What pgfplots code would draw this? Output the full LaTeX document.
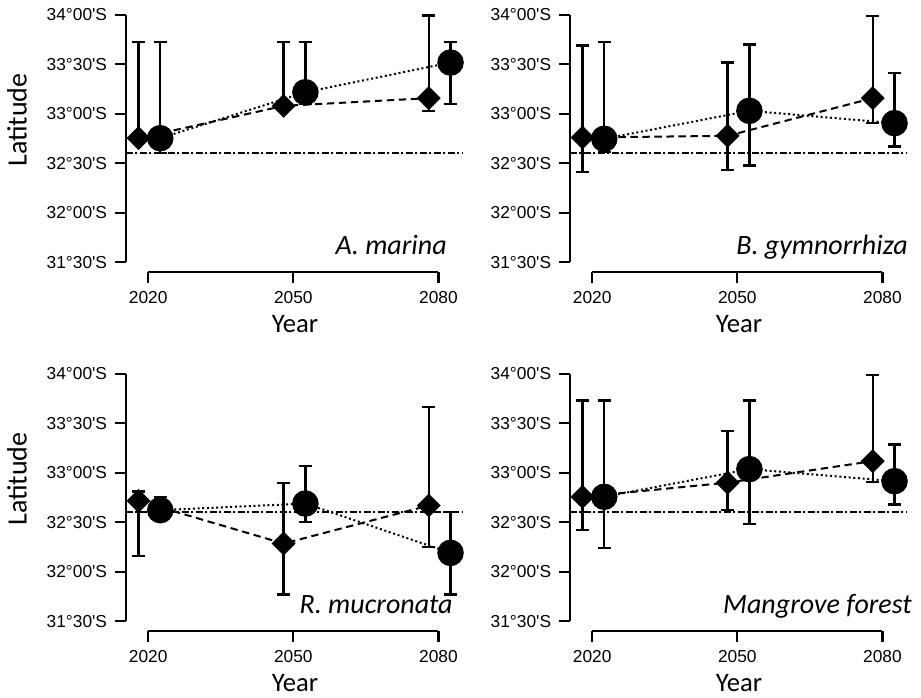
\documentclass[border=0pt]{standalone}
\usepackage{pgfplots}
\pgfplotsset{compat=1.18}
\usepackage{fontspec}
\setmainfont{Liberation Sans}
\newfontfamily\calibri{Carlito}
\newfontfamily\arialf{Liberation Sans}[Ligatures=TeXOff]
\newcommand{\tickf}{\arialf\fontsize{13}{15}\selectfont}
\newcommand{\labf}{\calibri\fontsize{20}{22}\selectfont}
\newcommand{\latf}{\calibri\fontsize{21}{23}\selectfont}
\newcommand{\spf}{\calibri\itshape\fontsize{21}{23}\selectfont}

\pgfplotsset{
  rstyle/.style={
    scale only axis, width=252.75pt, height=200.25pt,
    xmin=2015.42, xmax=2085.08, ymin=31.4, ymax=34.1,
    axis x line*=bottom, axis y line*=left, axis line style={draw=none},
    tick align=outside, major tick length=8pt,
    tick style={black, line width=1.7pt},
    xtick={2020,2050,2080}, xticklabels={2020,2050,2080},
    ytick={31.5,32,32.5,33,33.5,34},
    yticklabels={31°30'S,32°00'S,32°30'S,33°00'S,33°30'S,34°00'S},
    xticklabel style={font=\tickf, inner sep=0pt, anchor=north, yshift=-6pt},
    yticklabel style={font=\tickf, inner sep=0pt, anchor=east, xshift=-6pt},
    clip=false,
    xlabel={Year}, xlabel style={font=\labf, at={(axis description cs:0.5015,-0.228)}, anchor=base},
  },
  dia/.style={black, line width=1.5pt, dash pattern=on 5.5pt off 3.5pt,
    mark=square*, mark size=5.6pt, mark options={rotate=45, solid},
    error bars/.cd, y dir=both, y explicit,
    error bar style={solid, line width=1.7pt},
    error mark options={rotate=90, mark size=4.9pt, line width=1.7pt, solid, black}},
  cir/.style={black, line width=1.5pt, dash pattern=on 1.5pt off 2pt,
    mark=*, mark size=9.2pt, mark options={solid},
    error bars/.cd, y dir=both, y explicit,
    error bar style={solid, line width=1.7pt},
    error mark options={rotate=90, mark size=4.9pt, line width=1.7pt, solid, black}},
  refl/.style={black, line width=1.5pt, dash pattern=on 5pt off 2pt on 1.5pt off 2pt, no marks},
}
\newcommand{\raxes}{%
  \draw[line width=1.7pt] (axis cs:2015.42,31.5) -- (axis cs:2015.42,34);
  \draw[line width=1.7pt] (axis cs:2020,31.4) -- (axis cs:2080,31.4);
}

\begin{document}
\begin{tikzpicture}
\useasboundingbox (0,0) rectangle (690.75pt,522.75pt);

% Panel 1: A. marina
\begin{axis}[rstyle, at={(94.5pt,318.75pt)}, anchor=south west]
\raxes
\addplot[refl] coordinates {(2015.42,32.6) (2085.08,32.6)};
\addplot[dia] table[x=x, y=y, y error plus=ep, y error minus=em] {
x y ep em
2018 32.753 0.971 0
2048 33.080 0.644 0
2078 33.158 0.835 0.128
};
\addplot[cir] table[x=x, y=y, y error plus=ep, y error minus=em] {
x y ep em
2022.5 32.753 0.971 0.153
2052.5 33.218 0.506 0.120
2082.5 33.518 0.206 0.421
};
\node[font=\spf, anchor=base east, inner sep=0pt] at (rel axis cs:0.9525,0.0637) {A. marina};
\node[font=\latf, rotate=90, anchor=center, inner sep=0pt] at (rel axis cs:-0.3234,0.569) {Latitude};
\end{axis}

% Panel 2: B. gymnorrhiza
\begin{axis}[rstyle, at={(427.5pt,318.75pt)}, anchor=south west]
\raxes
\addplot[refl] coordinates {(2015.42,32.6) (2085.08,32.6)};
\addplot[dia] table[x=x, y=y, y error plus=ep, y error minus=em] {
x y ep em
2018 32.760 0.930 0.347
2048 32.777 0.741 0.347
2078 33.158 0.832 0.253
};
\addplot[cir] table[x=x, y=y, y error plus=ep, y error minus=em] {
x y ep em
2022.5 32.747 0.977 0.137
2052.5 33.030 0.670 0.553
2082.5 32.905 0.505 0.235
};
\node[font=\spf, anchor=base east, inner sep=0pt] at (rel axis cs:1.003,0.0637) {B. gymnorrhiza};
\end{axis}

% Panel 3: R. mucronata
\begin{axis}[rstyle, at={(94.5pt,49.5pt)}, anchor=south west]
\raxes
\addplot[refl] coordinates {(2015.42,32.6) (2085.08,32.6)};
\addplot[dia] table[x=x, y=y, y error plus=ep, y error minus=em] {
x y ep em
2018 32.716 0.094 0.556
2048 32.284 0.616 0.514
2078 32.669 0.993 0.419
};
\addplot[cir] table[x=x, y=y, y error plus=ep, y error minus=em] {
x y ep em
2022.5 32.622 0.135 0
2052.5 32.689 0.381 0.189
2082.5 32.190 0.415 0.420
};
\node[font=\spf, anchor=base east, inner sep=0pt] at (rel axis cs:0.970,0.0674) {R. mucronata};
\node[font=\latf, rotate=90, anchor=center, inner sep=0pt] at (rel axis cs:-0.3234,0.569) {Latitude};
\end{axis}

% Panel 4: Mangrove forest
\begin{axis}[rstyle, at={(427.5pt,49.5pt)}, anchor=south west]
\raxes
\addplot[refl] coordinates {(2015.42,32.6) (2085.08,32.6)};
\addplot[dia] table[x=x, y=y, y error plus=ep, y error minus=em] {
x y ep em
2018 32.757 0.973 0.337
2048 32.900 0.520 0.280
2078 33.118 0.872 0.208
};
\addplot[cir] table[x=x, y=y, y error plus=ep, y error minus=em] {
x y ep em
2022.5 32.757 0.973 0.514
2052.5 33.037 0.693 0.557
2082.5 32.915 0.372 0.236
};
\node[font=\spf, anchor=base east, inner sep=0pt] at (rel axis cs:1.015,0.0674) {Mangrove forest};
\end{axis}
\end{tikzpicture}
\end{document}
